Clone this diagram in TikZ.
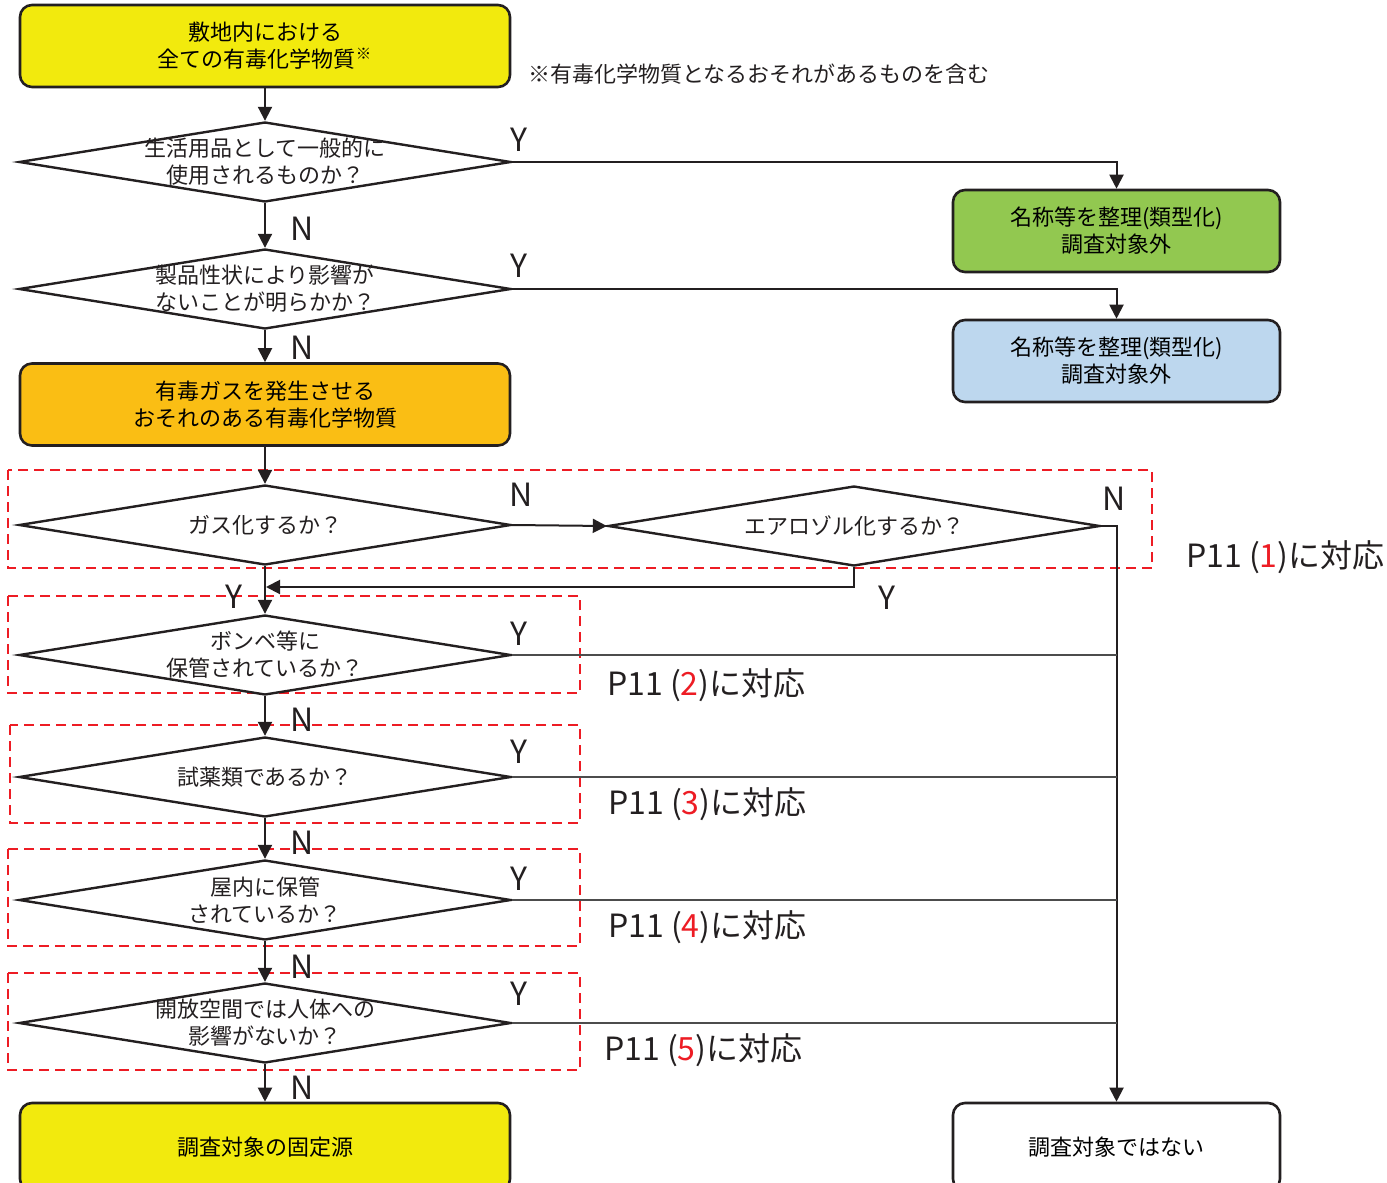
\documentclass[tikz,border=0pt]{standalone}
\usepackage{fontspec}
\setmainfont{Noto Sans CJK JP}
\usetikzlibrary{shapes.geometric,arrows.meta}

\definecolor{boxyellow}{RGB}{242,234,13}
\definecolor{boxgreen}{RGB}{146,200,80}
\definecolor{boxblue}{RGB}{189,215,238}
\definecolor{boxorange}{RGB}{250,190,20}
\definecolor{framered}{RGB}{237,28,36}
\definecolor{ink}{RGB}{35,31,32}

\tikzset{
	box/.style={draw=ink, line width=1.3pt, rounded corners=6pt, align=center, minimum width=245pt, minimum height=41pt, font=\fontsize{11}{13.5}\selectfont},
	sidebox/.style={box, minimum width=163.5pt},
	decision/.style={draw=ink, diamond, line width=1.2pt, fill=white, minimum width=246pt, minimum height=40pt, inner sep=0pt},
	qtext/.style={align=center, text=ink, font=\fontsize{11}{13.5}\selectfont},
	flow/.style={draw=ink, line width=1pt, -{Triangle[length=7pt,width=7pt]}},
	sideline/.style={draw=black!70, line width=0.6pt},
	frame/.style={draw=framered, line width=1pt, dash pattern=on 5pt off 3pt},
	yn/.style={text=ink, font=\fontsize{16}{16}\selectfont},
	pref/.style={anchor=west, text=ink, font=\fontsize{16}{16}\selectfont},
}
\newcommand{\pnum}[1]{P11 (\textcolor{framered}{#1})に対応}

\begin{document}
\begin{tikzpicture}[x=0.5pt, y=-0.5pt]
		%%%%% START %%%%%
		\useasboundingbox (0,0) rectangle (1387,1183);
		\clip (0,0) rectangle (1387,1183);
		
		% dashed frames
		\draw[frame] (8,470) rectangle (1152,568);
		\draw[frame] (8,596) rectangle (580,693);
		\draw[frame] (10,725) rectangle (580,823);
		\draw[frame] (8,849) rectangle (580,946);
		\draw[frame] (8,973) rectangle (580,1070);
		
		\node[box, fill=boxyellow] (all) at (265,46) {敷地内における\\全ての有毒化学物質\textsuperscript{※}};
		\node[anchor=west, text=ink, font=\fontsize{11}{13.5}\selectfont] (note) at (521,74) {※有毒化学物質となるおそれがあるものを含む};
		
		\node[decision, label={[qtext]center:{生活用品として一般的に\\使用されるものか？}}] (daily) at (265,162) {};
		\node[sidebox, fill=boxgreen] (outA) at (1116.5,231) {名称等を整理(類型化)\\調査対象外};
		
		\node[decision, label={[qtext]center:{製品性状により影響が\\ないことが明らかか？}}] (safe) at (265,289) {};
		\node[sidebox, fill=boxblue] (outB) at (1116.5,361) {名称等を整理(類型化)\\調査対象外};
		
		\node[box, fill=boxorange] (toxic) at (265,404.5) {有毒ガスを発生させる\\おそれのある有毒化学物質};
		
		\node[decision, label={[qtext]center:{ガス化するか？}}] (gas) at (265,525) {};
		\node[decision, label={[qtext]center:{エアロゾル化するか？}}] (aero) at (854,526) {};
		\node[decision, label={[qtext]center:{ボンベ等に\\保管されているか？}}] (cyl) at (265,655) {};
		\node[decision, label={[qtext]center:{試薬類であるか？}}] (reag) at (265,777) {};
		\node[decision, label={[qtext]center:{屋内に保管\\されているか？}}] (indoor) at (265,900) {};
		\node[decision, label={[qtext]center:{開放空間では人体への\\影響がないか？}}] (open) at (265,1023) {};
		
		\node[box, fill=boxyellow, minimum height=44pt] (target) at (265,1147) {調査対象の固定源};
		\node[sidebox, fill=white, minimum height=44pt] (nontarget) at (1116.5,1147) {調査対象ではない};
		
		\coordinate (merge) at (266,587);
		
		% connectors
		\draw[flow] (all) -- (daily);
		\draw[flow] (daily.east) -| (outA.north);
		\draw[flow] (daily) -- (safe);
		\draw[flow] (safe.east) -| (outB.north);
		\draw[flow] (safe) -- (toxic);
		\draw[flow] (toxic) -- (gas);
		\draw[flow] (gas.east) -- (aero.west);
		\draw[flow] (aero.east) -- (aero.east -| nontarget.north) -- (nontarget.north);
		\draw[flow] (aero.south) |- (merge);
		\draw[flow] (gas) -- (cyl);
		\draw[flow] (cyl) -- (reag);
		\draw[flow] (reag) -- (indoor);
		\draw[flow] (indoor) -- (open);
		\draw[flow] (open) -- (target);
		
		\draw[sideline] (cyl.east) -- (cyl.east -| nontarget.north);
		\draw[sideline] (reag.east) -- (reag.east -| nontarget.north);
		\draw[sideline] (indoor.east) -- (indoor.east -| nontarget.north);
		\draw[sideline] (open.east) -- (open.east -| nontarget.north);
		
		% Y / N
		\node[yn] (y1) at (519,140) {Y};
		\node[yn] (n1) at (302,229) {N};
		\node[yn] (y2) at (519,266) {Y};
		\node[yn] (n2) at (302,348) {N};
		\node[yn] (n3) at (521,495) {N};
		\node[yn] (n4) at (1114,499) {N};
		\node[yn] (y4) at (887,598) {Y};
		\node[yn] (y3) at (234,597) {Y};
		\node[yn] (y5) at (519,634) {Y};
		\node[yn] (n5) at (302,720) {N};
		\node[yn] (y6) at (519,752) {Y};
		\node[yn] (n6) at (302,843) {N};
		\node[yn] (y7) at (519,879) {Y};
		\node[yn] (n7) at (302,967) {N};
		\node[yn] (y8) at (519,994) {Y};
		\node[yn] (n8) at (302,1088) {N};
		
		% page references
		\node[pref] (p1) at (1179,557) {\pnum{1}};
		\node[pref] (p2) at (600,685) {\pnum{2}};
		\node[pref] (p3) at (601,804) {\pnum{3}};
		\node[pref] (p4) at (601,927) {\pnum{4}};
		\node[pref] (p5) at (597,1050) {\pnum{5}};
		
		%%%%% END %%%%%
	\end{tikzpicture}
\end{document}
